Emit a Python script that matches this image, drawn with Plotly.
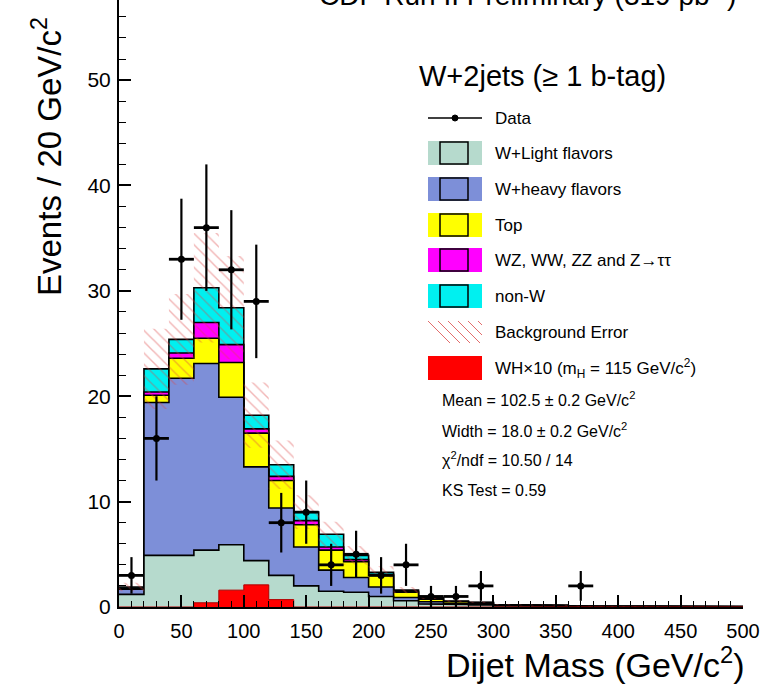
import numpy as np
import plotly.graph_objects as go

# ---------------- data (20 GeV/c^2 bins, 0..500) ----------------
bin_edges = list(range(0, 520, 20))
w_light = [1.2, 4.9, 4.9, 5.4, 5.9, 4.4, 3.0, 2.0, 1.5, 1.4, 1.0, 0.6, 0.3, 0.25, 0.2,
           0.1, 0.1, 0.08, 0.05, 0.05, 0.04, 0.03, 0.03, 0.02, 0.02]
w_heavy = [0.5, 14.5, 16.8, 17.7, 14.0, 8.9, 6.4, 3.7, 2.0, 1.4, 0.9, 0.3, 0.2, 0.1, 0.1,
           0.05, 0.05, 0.04, 0.03, 0.02, 0.02, 0.01, 0.01, 0.01, 0.01]
top = [0.05, 0.7, 1.9, 2.4, 3.3, 3.2, 2.6, 2.1, 1.9, 1.5, 1.1, 0.5, 0.25, 0.15, 0.1,
       0.05, 0.05, 0.03, 0.02, 0.02, 0.01, 0.01, 0.01, 0.01, 0.01]
diboson = [0.05, 0.3, 0.5, 1.5, 1.7, 0.4, 0.4, 0.4, 0.3, 0.2, 0.1, 0.1, 0.05, 0.02, 0.02,
           0.01, 0.01, 0.01, 0.0, 0.0, 0.0, 0.0, 0.0, 0.0, 0.0]
non_w = [0.1, 2.2, 1.3, 3.3, 3.5, 1.3, 1.1, 0.8, 1.2, 0.4, 0.2, 0.1, 0.1, 0.05, 0.03,
         0.02, 0.02, 0.01, 0.0, 0.0, 0.0, 0.0, 0.0, 0.0, 0.0]
wh_signal = [0, 0, 0, 0.4, 1.6, 2.1, 0.7, 0, 0, 0, 0, 0, 0, 0, 0,
             0, 0, 0, 0, 0, 0, 0, 0, 0, 0]
bg_error = [0.4, 3.8, 4.3, 5.2, 4.9, 3.1, 2.3, 1.6, 1.2, 0.9, 0.6, 0.3, 0.15, 0.1, 0.08,
            0.05, 0.05, 0.04, 0.03, 0.02, 0.02, 0.01, 0.01, 0.01, 0.01]
data_counts = [3, 16, 33, 36, 32, 29, 8, 9, 4, 5, 3, 4, 1, 1, 2,
               0, 0, 0, 2, 0, 0, 0, 0, 0, 0]

x_ticks = [0, 50, 100, 150, 200, 250, 300, 350, 400, 450, 500]
y_ticks = [0, 10, 20, 30, 40, 50]

legend_labels = ["Data", "W+Light flavors", "W+heavy flavors", "Top",
                 "WZ, WW, ZZ and Z\u2192\u03c4\u03c4", "non-W", "Background Error",
                 "WH\u00d710 (m<sub>H</sub> = 115 GeV/c<sup>2</sup>)"]
stats_lines = ["Mean = 102.5 \u00b1 0.2 GeV/c<sup>2</sup>",
               "Width = 18.0 \u00b1 0.2 GeV/c<sup>2</sup>",
               "\u03c7<sup>2</sup>/ndf = 10.50 / 14",
               "KS Test = 0.59"]

# ---------------- colours ----------------
C_LIGHT = "#b6dacd"
C_HEAVY = "#7d8fd8"
C_TOP = "#ffff00"
C_DIB = "#ff00ff"
C_NONW = "#00f0f0"
C_SIG = "#ff0000"
C_HATCH = "rgba(220,70,70,0.8)"

edges = np.array(bin_edges, dtype=float)
centers = 0.5 * (edges[:-1] + edges[1:])


def step_xy(vals):
    xs = np.repeat(edges, 2)[1:-1]
    ys = np.repeat(np.asarray(vals, dtype=float), 2)
    return xs, ys


c1 = np.array(w_light)
c2 = c1 + np.array(w_heavy)
c3 = c2 + np.array(top)
c4 = c3 + np.array(diboson)
c5 = c4 + np.array(non_w)

FONT = "Liberation Sans, Arial, Helvetica, sans-serif"
fig = go.Figure()

# stacked histograms, drawn from the tallest cumulative down
for cum, col, name in [(c5, C_NONW, "non-W"), (c4, C_DIB, "Diboson"), (c3, C_TOP, "Top"),
                       (c2, C_HEAVY, "W+heavy"), (c1, C_LIGHT, "W+light")]:
    xs, ys = step_xy(cum)
    fig.add_trace(go.Scatter(x=xs, y=ys, mode="lines", fill="tozeroy", fillcolor=col,
                             line=dict(color="black", width=1.6), name=name,
                             showlegend=False, hoverinfo="skip"))

# signal
xs, ys = step_xy(wh_signal)
fig.add_trace(go.Scatter(x=xs, y=ys, mode="lines", fill="tozeroy", fillcolor=C_SIG,
                         line=dict(color="#b00000", width=1), showlegend=False,
                         hoverinfo="skip"))

# background error band (hatched)
err = np.array(bg_error)
xu, yu = step_xy(c5 + err)
xl, yl = step_xy(np.clip(c5 - err, 0, None))
fig.add_trace(go.Scatter(x=np.concatenate([xu, xl[::-1]]),
                         y=np.concatenate([yu, yl[::-1]]),
                         mode="lines", fill="toself", fillcolor="rgba(0,0,0,0)",
                         fillpattern=dict(shape="\\", fgcolor=C_HATCH,
                                          bgcolor="rgba(0,0,0,0)", size=8, solidity=0.18),
                         line=dict(width=0), showlegend=False, hoverinfo="skip"))

# data
d = np.array(data_counts, dtype=float)
m = d > 0
fig.add_trace(go.Scatter(x=centers[m], y=d[m], mode="markers",
                         marker=dict(color="black", size=7),
                         error_y=dict(type="data", array=np.sqrt(d[m]), color="black",
                                      thickness=2.2, width=0),
                         error_x=dict(type="constant", value=10, color="black",
                                      thickness=2.8, width=0),
                         showlegend=False))

# ---------------- layout helpers (pixel -> paper) ----------------
L, R, T, B = 119, 21, 0, 88
W, H = 764, 695
PW, PH = W - L - R, H - T - B


def px(x):
    return (x - L) / PW


def py(y):
    return 1 - (y - T) / PH


shapes = []
annotations = []

# legend title
annotations.append(dict(x=px(417), y=py(76), xref="paper", yref="paper",
                        text="W+2jets (\u2265 1 b-tag)", showarrow=False,
                        xanchor="left", yanchor="middle",
                        font=dict(size=29, family=FONT, color="black")))

row_y = [118, 153, 189, 225, 260, 296, 332, 368]
box_cols = [None, C_LIGHT, C_HEAVY, C_TOP, C_DIB, C_NONW, "hatch", C_SIG]
for yy, col, lab in zip(row_y, box_cols, legend_labels):
    if col is None:
        shapes.append(dict(type="line", xref="paper", yref="paper",
                           x0=px(428), x1=px(482), y0=py(yy), y1=py(yy),
                           line=dict(color="black", width=1.5)))
        shapes.append(dict(type="circle", xref="paper", yref="paper",
                           x0=px(452), x1=px(458), y0=py(yy - 3), y1=py(yy + 3),
                           fillcolor="black", line=dict(color="black", width=1)))
    elif col == "hatch":
        for k in range(6):
            x0 = 428 + k * 10
            shapes.append(dict(type="line", xref="paper", yref="paper",
                               x0=px(x0), x1=px(min(x0 + 22, 482)),
                               y0=py(yy - 11), y1=py(yy - 11 + min(22, 482 - x0)),
                               line=dict(color=C_HATCH, width=1)))
    else:
        shapes.append(dict(type="rect", xref="paper", yref="paper",
                           x0=px(428), x1=px(482), y0=py(yy - 12), y1=py(yy + 12),
                           fillcolor=col, line=dict(width=0)))
        if col != C_SIG:
            shapes.append(dict(type="rect", xref="paper", yref="paper",
                               x0=px(440), x1=px(468), y0=py(yy - 11), y1=py(yy + 11),
                               fillcolor="rgba(0,0,0,0)",
                               line=dict(color="black", width=1.5)))
    annotations.append(dict(x=px(493), y=py(yy), xref="paper", yref="paper", text=lab,
                            showarrow=False, xanchor="left", yanchor="middle",
                            font=dict(size=17, family=FONT, color="black")))

for yy, txt in zip([399, 430, 459, 490], stats_lines):
    annotations.append(dict(x=px(440), y=py(yy), xref="paper", yref="paper", text=txt,
                            showarrow=False, xanchor="left", yanchor="middle",
                            font=dict(size=16, family=FONT, color="black")))

# top title (cut by the page edge, as in the original)
annotations.append(dict(x=px(738), y=py(13), xref="paper", yref="paper",
                        text="CDF Run II Preliminary (319 pb<sup>-1</sup>)",
                        showarrow=False, xanchor="right", yanchor="bottom",
                        font=dict(size=28, family=FONT, color="black")))

# axis titles
annotations.append(dict(x=px(47), y=py(157), xref="paper", yref="paper",
                        text="Events / 20 GeV/c<sup>2</sup>", textangle=-90,
                        showarrow=False, xanchor="center", yanchor="middle",
                        font=dict(size=33, family=FONT, color="black")))
annotations.append(dict(x=px(747), y=py(662), xref="paper", yref="paper",
                        text="Dijet Mass (GeV/c<sup>2</sup>)",
                        showarrow=False, xanchor="right", yanchor="middle",
                        font=dict(size=34, family=FONT, color="black")))

fig.update_layout(
    width=W, height=H,
    margin=dict(l=L, r=R, t=T, b=B, pad=0),
    paper_bgcolor="white", plot_bgcolor="white",
    showlegend=False,
    shapes=shapes, annotations=annotations,
    xaxis=dict(range=[0, 500], tickvals=x_ticks, ticks="inside", ticklen=12,
               tickwidth=1.5, tickcolor="black", showline=True, linecolor="black",
               linewidth=2, showgrid=False, zeroline=False,
               minor=dict(dtick=10, ticks="inside", ticklen=6, tickcolor="black",
                          tickwidth=1),
               tickfont=dict(size=20, family=FONT, color="black"),
               ticklabelstandoff=5),
    yaxis=dict(range=[0, 57.6], tickvals=y_ticks, ticks="inside", ticklen=12,
               tickwidth=1.5, tickcolor="black", showline=True, linecolor="black",
               linewidth=2, showgrid=False, zeroline=False,
               minor=dict(dtick=2, ticks="inside", ticklen=7, tickcolor="black",
                          tickwidth=1),
               tickfont=dict(size=21, family=FONT, color="black"),
               ticklabelstandoff=2),
)

fig.write_html("out.html")
